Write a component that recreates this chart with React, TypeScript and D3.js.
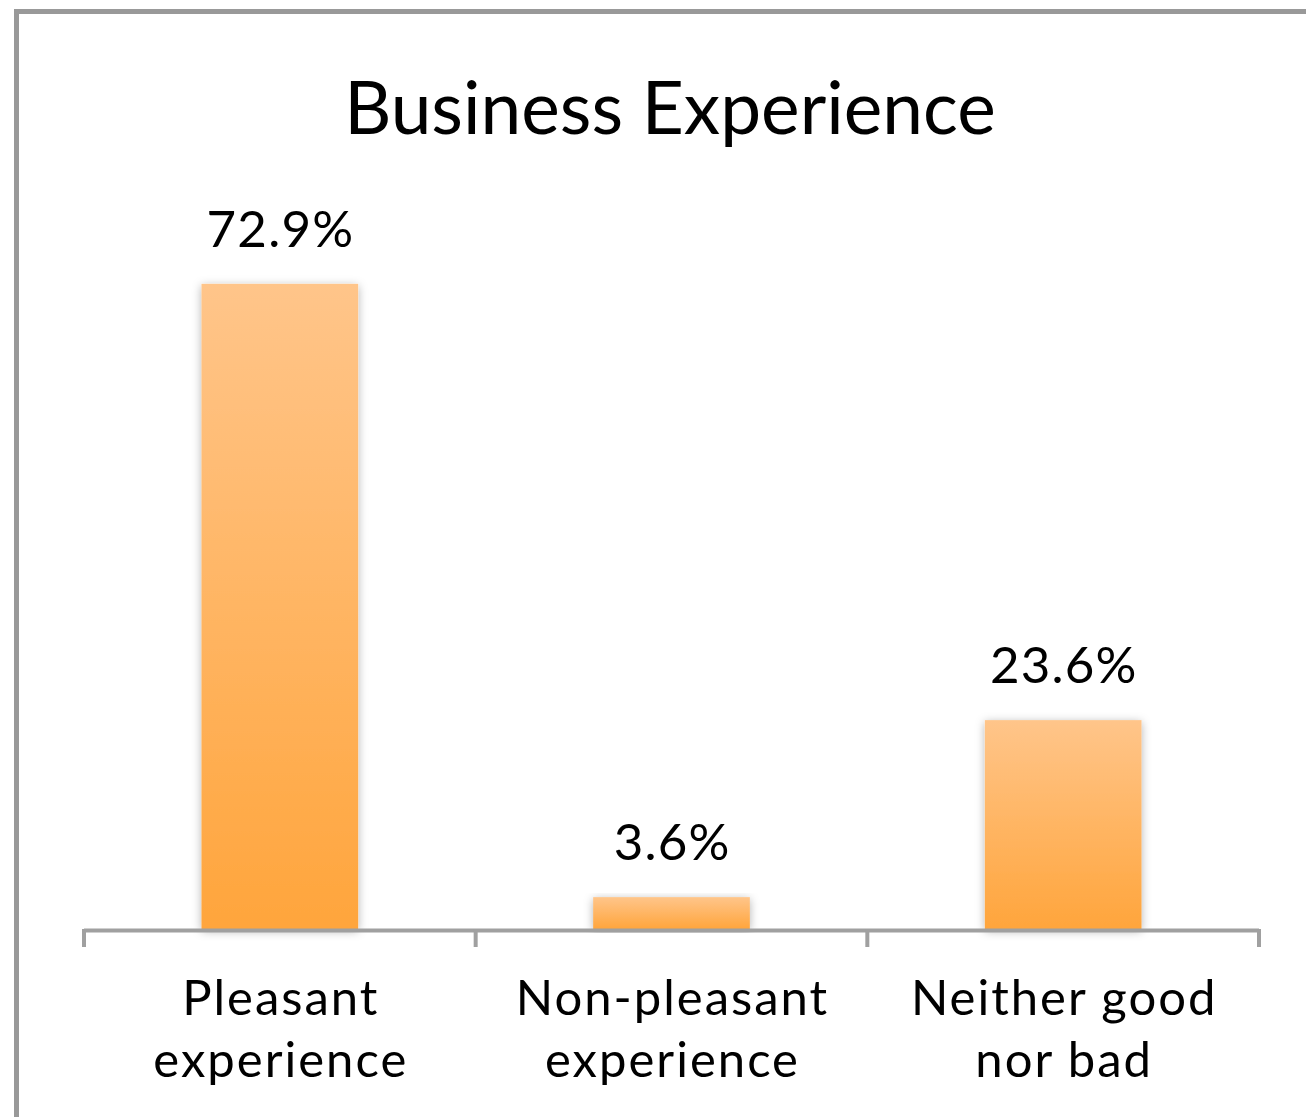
import React from "react";
import * as d3 from "d3";

const categories: string[][] = [
  ["Pleasant", "experience"],
  ["Non-pleasant", "experience"],
  ["Neither good", "nor bad"],
];
const values: number[] = [72.9, 3.6, 23.6];
const valueLabels: string[] = ["72.9%", "3.6%", "23.6%"];
const title = "Business Experience";

const W = 1306;
const H = 1117;
const FONT = "Lato, 'Noto Sans', sans-serif";

export default function App() {
  const x0 = 84;
  const x1 = 1259;
  const baseY = 929;
  const x = d3
    .scaleBand<number>()
    .domain(values.map((_, i) => i))
    .range([x0, x1])
    .paddingInner(0.6)
    .paddingOuter(0.3);
  const y = d3.scaleLinear().domain([0, 80]).range([baseY, baseY - 80 * 8.85]);

  return (
    <svg
      width={W}
      height={H}
      style={{ position: "absolute", left: 0, top: 0, display: "block" }}
    >
      <defs>
        <linearGradient id="barGrad" x1="0" y1="0" x2="0" y2="1">
          <stop offset="0%" stopColor="#FFC58A" />
          <stop offset="100%" stopColor="#FFA53C" />
        </linearGradient>
        <filter id="shadow" x="-20%" y="-10%" width="140%" height="120%">
          <feDropShadow dx="0" dy="2" stdDeviation="5" floodColor="#000" floodOpacity="0.3" />
        </filter>
      </defs>
      <rect x={0} y={0} width={W} height={H} fill="#fff" />
      <rect x={16.5} y={11.5} width={W + 20} height={H + 20} fill="none" stroke="#999" strokeWidth={5} />
      <text
        x={670}
        y={134}
        textAnchor="middle"
        fontFamily={FONT}
        fontSize={73}
        fill="#000"
      >
        {title}
      </text>
      {values.map((v, i) => {
        const bx = x(i)!;
        const bw = x.bandwidth();
        return (
          <g key={i}>
            <rect
              x={bx}
              y={y(v)}
              width={bw}
              height={baseY - y(v)}
              fill="url(#barGrad)"
              filter="url(#shadow)"
            />
            <text
              x={bx + bw / 2 + 0.6}
              y={y(v) - 37}
              textAnchor="middle"
              fontFamily={FONT}
              fontSize={51}
              letterSpacing={1.2}
              fill="#000"
            >
              {valueLabels[i]}
            </text>
          </g>
        );
      })}
      <g stroke="#a0a0a0" strokeWidth={4} fill="none">
        <line x1={x0} x2={x1} y1={baseY + 1.5} y2={baseY + 1.5} />
        {d3.range(values.length + 1).map((i) => {
          const tx = x0 + ((x1 - x0) * i) / values.length;
          return <line key={i} x1={tx} x2={tx} y1={baseY} y2={947} />;
        })}
      </g>
      {categories.map((lines, i) => (
        <text
          key={i}
          x={x(i)! + x.bandwidth() / 2 + 1}
          textAnchor="middle"
          fontFamily={FONT}
          fontSize={49}
          letterSpacing={2}
          fill="#000"
        >
          {lines.map((l, j) => (
            <tspan key={j} x={x(i)! + x.bandwidth() / 2 + 1} y={1015 + j * 62}>
              {l}
            </tspan>
          ))}
        </text>
      ))}
    </svg>
  );
}
